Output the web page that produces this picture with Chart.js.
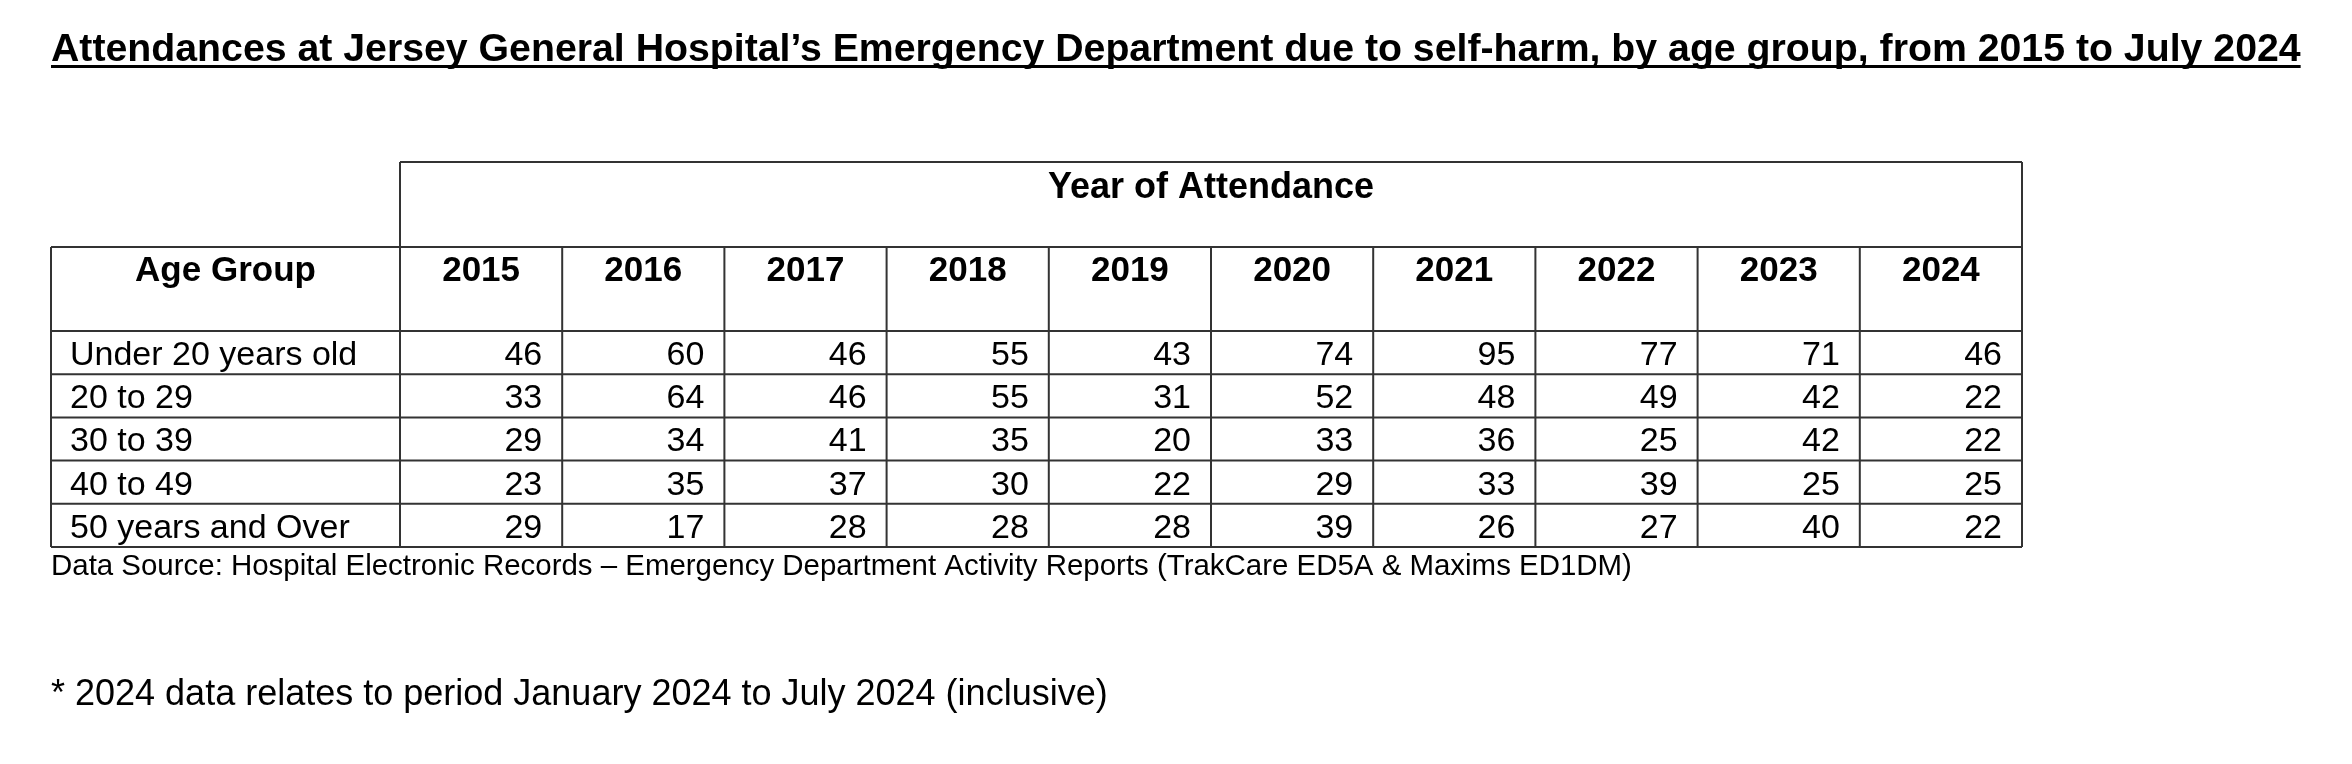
<!DOCTYPE html>
<html>
<head>
<meta charset="utf-8">
<script src="https://cdn.jsdelivr.net/npm/chart.js@4.4.1/dist/chart.umd.min.js"></script>
<style>
  html, body { margin: 0; padding: 0; background: #fff; }
</style>
</head>
<body>
<canvas id="myChart" width="2352" height="764"></canvas>
<script>
// table data
const years = ['2015', '2016', '2017', '2018', '2019', '2020', '2021', '2022', '2023', '2024'];
const ageGroups = ['Under 20 years old', '20 to 29', '30 to 39', '40 to 49', '50 years and Over'];
const under20 = [46, 60, 46, 55, 43, 74, 95, 77, 71, 46];
const age20to29 = [33, 64, 46, 55, 31, 52, 48, 49, 42, 22];
const age30to39 = [29, 34, 41, 35, 20, 33, 36, 25, 42, 22];
const age40to49 = [23, 35, 37, 30, 22, 29, 33, 39, 25, 25];
const age50plus = [29, 17, 28, 28, 28, 39, 26, 27, 40, 22];
const rows = [under20, age20to29, age30to39, age40to49, age50plus];

const titleText = 'Attendances at Jersey General Hospital\u2019s Emergency Department due to self-harm, by age group, from 2015 to July 2024';
const sourceText = 'Data Source: Hospital Electronic Records \u2013 Emergency Department Activity Reports (TrakCare ED5A & Maxims ED1DM)';
const noteText = '* 2024 data relates to period January 2024 to July 2024 (inclusive)';
const firstHeader = 'Age Group';

const FONT = "'Liberation Sans', Arial, sans-serif";
const ctx = document.getElementById('myChart');

// one (invisible) point per cell, text is drawn at the point positions
const datasets = rows.map(function (vals, r) {
  return {
    label: ageGroups[r],
    data: vals.map(function (v, i) { return { x: years[i], y: ageGroups[r], v: v }; }),
    showLine: false,
    pointRadius: 0,
    pointHoverRadius: 0
  };
});

// pick a font size so the text fills the given width
function fitFont(c, text, weight, width) {
  c.font = weight + ' 40px ' + FONT;
  return 40 * width / c.measureText(text).width;
}

const tablePlugin = {
  id: 'tablePlugin',
  afterDraw(chart) {
    const c = chart.ctx;
    const xs = chart.scales.x, ys = chart.scales.y;
    const area = chart.chartArea;
    const colW = (xs.right - xs.left) / years.length;
    const rowH = (ys.bottom - ys.top) / ageGroups.length;
    const tableLeft = 51;
    const headTop = xs.top;
    const yearRowTop = area.top - 84;

    c.save();
    // cell values
    c.fillStyle = '#000';
    c.font = '34px ' + FONT;
    c.textAlign = 'right';
    c.textBaseline = 'middle';
    chart.data.datasets.forEach(function (ds, d) {
      chart.getDatasetMeta(d).data.forEach(function (pt, i) {
        c.fillText(String(ds.data[i].v), pt.x + colW / 2 - 20, pt.y + 3);
      });
    });

    // "Age Group" header, same line as the year labels
    c.font = 'bold 35px ' + FONT;
    c.textAlign = 'center';
    const labelY = xs.bottom - xs.options.ticks.padding - 35 * 1.2 / 2;
    c.fillText(firstHeader, (tableLeft + area.left) / 2, labelY);

    // borders
    c.strokeStyle = '#333';
    c.lineWidth = 2;
    c.beginPath();
    c.moveTo(area.left, headTop); c.lineTo(area.right, headTop);
    c.moveTo(tableLeft, yearRowTop); c.lineTo(area.right, yearRowTop);
    for (let r = 0; r <= ageGroups.length; r++) {
      const y = area.top + r * rowH;
      c.moveTo(tableLeft, y); c.lineTo(area.right, y);
    }
    c.moveTo(tableLeft, yearRowTop); c.lineTo(tableLeft, area.bottom);
    c.moveTo(area.left, headTop); c.lineTo(area.left, area.bottom);
    for (let i = 1; i < years.length; i++) {
      const x = xs.getPixelForValue(i) - colW / 2;
      c.moveTo(x, yearRowTop); c.lineTo(x, area.bottom);
    }
    c.moveTo(area.right, headTop); c.lineTo(area.right, area.bottom);
    c.stroke();

    // title, underlined
    const tSize = fitFont(c, titleText, 'bold', 2250);
    c.font = 'bold ' + tSize + 'px ' + FONT;
    c.textAlign = 'left';
    c.textBaseline = 'alphabetic';
    c.fillText(titleText, tableLeft, 61);
    c.fillStyle = '#000';
    c.fillRect(tableLeft, 65, c.measureText(titleText).width, 3);

    // source + footnote
    c.font = fitFont(c, sourceText, 'normal', 1582) + 'px ' + FONT;
    c.fillText(sourceText, tableLeft, 575);
    c.font = fitFont(c, noteText, 'normal', 1057) + 'px ' + FONT;
    c.fillText(noteText, tableLeft, 705);
    c.restore();
  }
};

new Chart(ctx, {
  type: 'line',
  data: { datasets: datasets },
  options: {
    responsive: false,
    animation: false,
    events: [],
    layout: { padding: { top: 162, left: 70, right: 330, bottom: 217 } },
    plugins: { legend: { display: false }, tooltip: { enabled: false } },
    scales: {
      x: {
        type: 'category',
        labels: years,
        position: 'top',
        offset: true,
        grid: { display: false, drawTicks: false },
        border: { display: false },
        ticks: {
          color: '#000',
          font: { family: FONT, size: 35, weight: 'bold' },
          padding: 39,
          maxRotation: 0,
          autoSkip: false
        },
        title: {
          display: true,
          text: 'Year of Attendance',
          color: '#000',
          font: { family: FONT, size: 36, weight: 'bold' },
          padding: { top: 4, bottom: 0 }
        },
        afterFit(scale) { scale.height = 169; }
      },
      y: {
        type: 'category',
        labels: ageGroups,
        offset: true,
        grid: { display: false, drawTicks: false },
        border: { display: false },
        ticks: {
          color: '#000',
          font: { family: FONT, size: 34 },
          crossAlign: 'far',
          padding: 0,
          labelOffset: 3,
          autoSkip: false
        },
        afterFit(scale) { scale.width = 330; }
      }
    }
  },
  plugins: [tablePlugin]
});
</script>
</body>
</html>
